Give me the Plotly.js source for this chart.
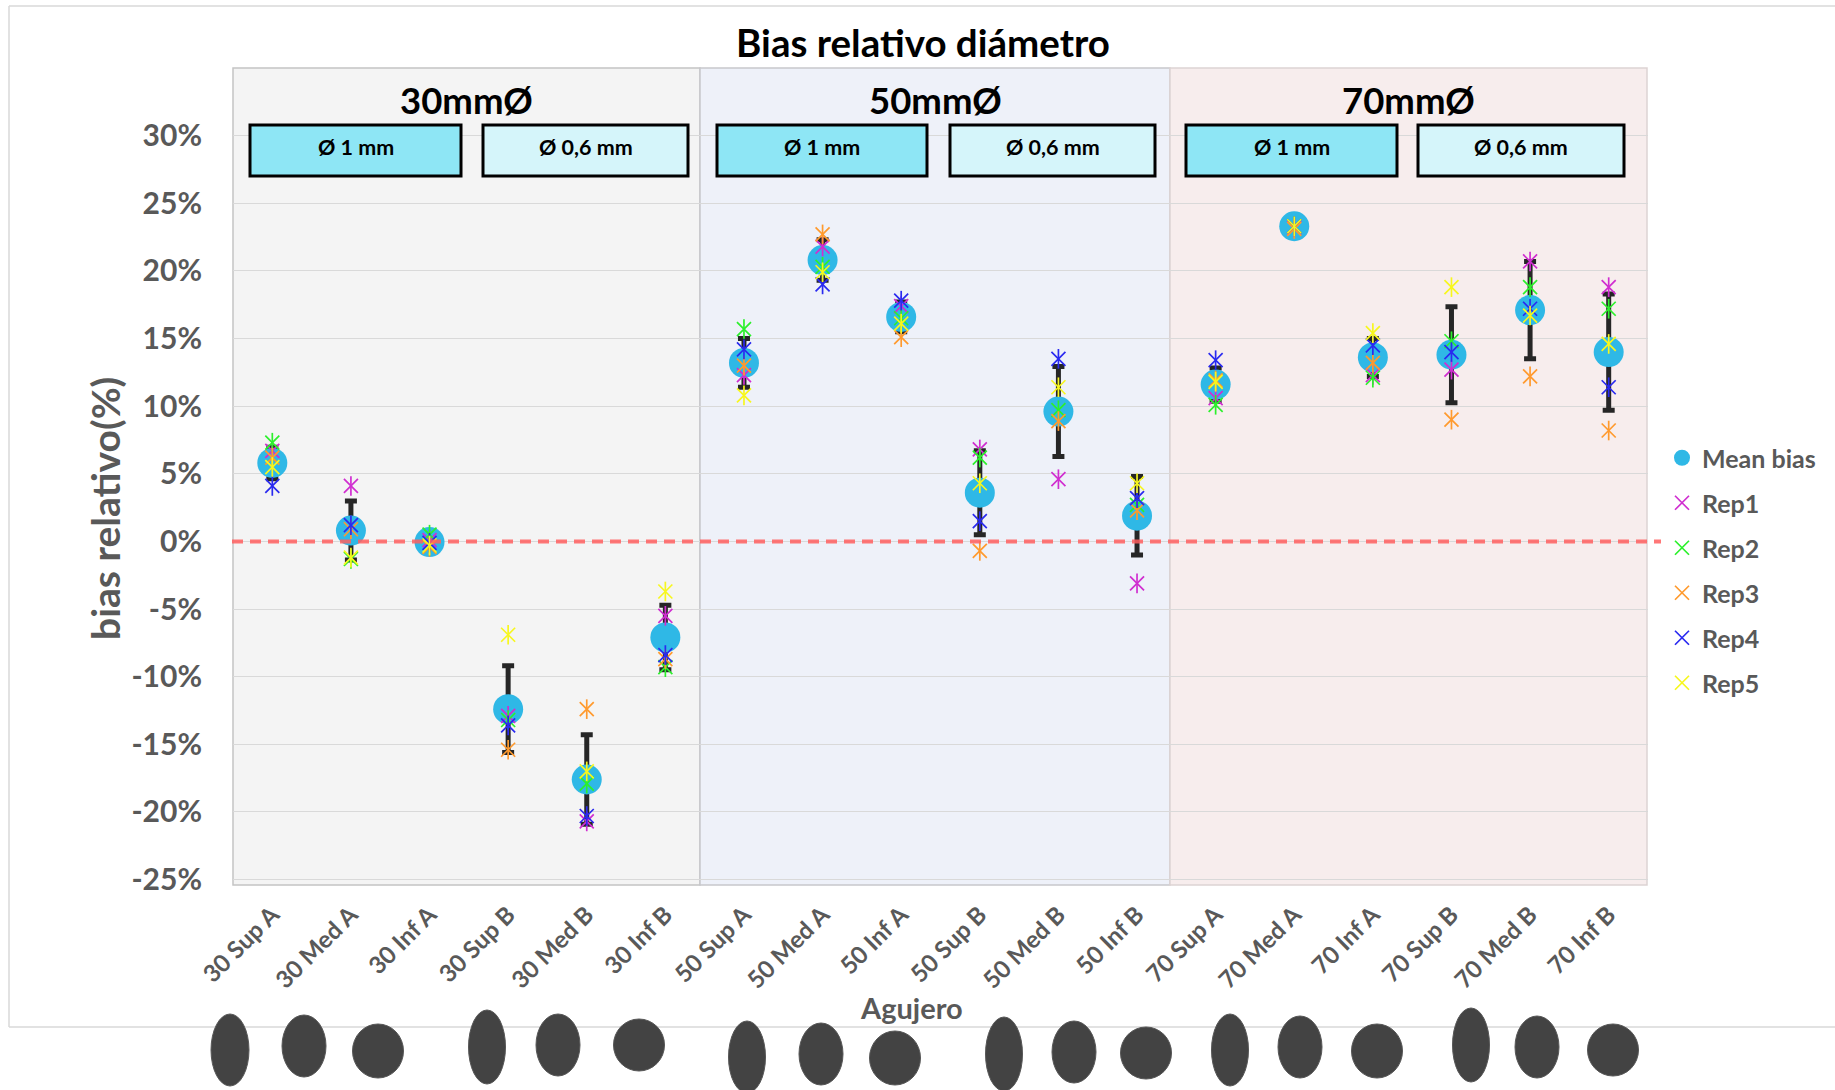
<!DOCTYPE html>
<html>
<head>
<meta charset="utf-8">
<script src="https://cdn.plot.ly/plotly-3.0.1.min.js"></script>
<style>
  html, body { margin: 0; padding: 0; background: #ffffff; }
  #chart { width: 1835px; height: 1090px; }
</style>
</head>
<body>
<div id="chart"></div>
<script>
// ---- data: relative diameter bias (%) per hole ----
const categories = [
  '30 Sup A', '30 Med A', '30 Inf A', '30 Sup B', '30 Med B', '30 Inf B',
  '50 Sup A', '50 Med A', '50 Inf A', '50 Sup B', '50 Med B', '50 Inf B',
  '70 Sup A', '70 Med A', '70 Inf A', '70 Sup B', '70 Med B', '70 Inf B'
];
const meanBias = [5.8, 0.8, -0.05, -12.4, -17.6, -7.1, 13.2, 20.8, 16.6, 3.6, 9.6, 1.9, 11.6, 23.3, 13.6, 13.8, 17.1, 14.0];
const biasSD   = [1.17, 2.18, 0.35, 3.2, 3.3, 2.38, 1.8, 1.5, 1.1, 3.1, 3.33, 2.9, 1.23, 0.1, 1.4, 3.55, 3.6, 4.3];
const rep1 = [6.7, 4.1, 0.1, -12.9, -20.7, -5.5, 12.3, 21.8, 17.4, 6.8, 4.6, -3.1, 10.6, 23.2, 12.3, 12.7, 20.7, 18.8];
const rep2 = [7.3, -1.3, 0.5, -13.2, -17.9, -9.3, 15.7, 20.3, 16.5, 6.2, 9.7, 2.7, 10.1, 23.3, 12.1, 14.8, 18.8, 17.2];
const rep3 = [6.2, 0.9, -0.4, -15.4, -12.4, -8.7, 13.0, 22.7, 15.1, -0.7, 8.9, 2.3, 11.9, 23.1, 13.2, 9.0, 12.2, 8.2];
const rep4 = [4.1, 1.2, -0.1, -13.6, -20.3, -8.4, 14.2, 19.0, 17.8, 1.5, 13.5, 3.2, 13.4, 23.3, 14.5, 14.0, 17.2, 11.4];
const rep5 = [5.5, -1.2, -0.3, -6.9, -17.0, -3.7, 10.8, 19.9, 16.1, 4.3, 11.4, 4.3, 11.8, 23.3, 15.4, 18.8, 16.7, 14.6];
const repNames = ['Rep1', 'Rep2', 'Rep3', 'Rep4', 'Rep5'];
const reference = 0;
const yTickValues = [-25, -20, -15, -10, -5, 0, 5, 10, 15, 20, 25, 30];
const yTickLabels = ['-25%', '-20%', '-15%', '-10%', '-5%', '0%', '5%', '10%', '15%', '20%', '25%', '30%'];
const groupLabels = ['30mmØ', '50mmØ', '70mmØ'];
const drillLabels = ['Ø 1 mm', 'Ø 0,6 mm'];

// ---- page geometry (pixels) ----
const W = 1835, H = 1090;
const PLOT = { left: 233, right: 1648, top: 68, bottom: 885 };
const Y_RANGE = [-25.4, 35];
const fx = px => (px - PLOT.left) / (PLOT.right - PLOT.left);
const fy = py => (PLOT.bottom - py) / (PLOT.bottom - PLOT.top);

const FONT = 'Lato, "Open Sans", "DejaVu Sans", sans-serif';
const GREY_TEXT = '#595959';
const repColors = ['#d02ed0', '#2cf02c', '#ff9a2e', '#2a2af0', '#f7f71e'];

// shaded panels, one per plate diameter
const panels = [
  { x0: 233, x1: 700, fill: '#f4f4f4', line: '#c4c4c4' },
  { x0: 700, x1: 1170, fill: '#eef1f9', line: '#c8c8cc' },
  { x0: 1170, x1: 1647, fill: '#f7eded', line: '#ddd3d3' }
];
// labelled boxes for the two drill diameters inside each panel
const boxSpans = [
  [[250, 461], [483, 688]],
  [[717, 927], [950, 1155]],
  [[1186, 1397], [1418, 1624]]
];
const boxFills = ['#8ee6f5', '#d5f5fa'];
const BOX_Y = [125, 176];

// hole outline icons under the axis
const holeIcons = [
  [230, 1050, 38, 72], [304, 1046, 44, 62], [378, 1051, 51, 54],
  [487, 1047, 37, 74], [558, 1045, 44, 62], [639, 1045, 51, 52],
  [747, 1057, 37, 72], [821, 1054, 44, 62], [895, 1058, 51, 54],
  [1004, 1054, 37, 74], [1074, 1052, 44, 62], [1146, 1053, 51, 52],
  [1230, 1050, 37, 72], [1300, 1047, 44, 62], [1377, 1051, 51, 54],
  [1471, 1045, 37, 74], [1537, 1047, 44, 62], [1613, 1050, 51, 52]
];

const shapes = [];
// chart frame
const frame = { type: 'line', xref: 'paper', yref: 'paper', layer: 'below', line: { color: '#d9d9d9', width: 1.5 } };
shapes.push(Object.assign({}, frame, { x0: fx(9), x1: fx(W + 5), y0: fy(6), y1: fy(6) }));
shapes.push(Object.assign({}, frame, { x0: fx(9), x1: fx(9), y0: fy(6), y1: fy(1027) }));
shapes.push(Object.assign({}, frame, { x0: fx(9), x1: fx(W + 5), y0: fy(1027), y1: fy(1027) }));

panels.forEach(p => {
  shapes.push({
    type: 'rect', xref: 'paper', yref: 'paper', layer: 'below',
    x0: fx(p.x0), x1: fx(p.x1), y0: 0, y1: 1,
    fillcolor: p.fill, line: { color: p.line, width: 1.5 }
  });
});

const annotations = [];
boxSpans.forEach((spans, g) => {
  spans.forEach((s, k) => {
    shapes.push({
      type: 'rect', xref: 'paper', yref: 'paper', layer: 'above',
      x0: fx(s[0]), x1: fx(s[1]), y0: fy(BOX_Y[1]), y1: fy(BOX_Y[0]),
      fillcolor: boxFills[k], line: { color: '#000000', width: 3 }
    });
    annotations.push({
      xref: 'paper', yref: 'paper', x: fx((s[0] + s[1]) / 2), y: fy((BOX_Y[0] + BOX_Y[1]) / 2 - 4),
      xanchor: 'center', yanchor: 'middle', showarrow: false, text: drillLabels[k],
      font: { family: FONT, size: 21.5, color: '#000000', weight: 'bold' }
    });
  });
  const p = panels[g];
  annotations.push({
    xref: 'paper', yref: 'paper', x: fx((p.x0 + p.x1) / 2), y: fy(100),
    xanchor: 'center', yanchor: 'middle', showarrow: false, text: groupLabels[g],
    font: { family: FONT, size: 36.5, color: '#000000', weight: 'bold' }
  });
});

// dashed zero-bias reference, running slightly past the plot edge
const yRef = (reference - Y_RANGE[0]) / (Y_RANGE[1] - Y_RANGE[0]);
shapes.push({
  type: 'line', xref: 'paper', yref: 'paper', layer: 'above',
  x0: fx(232), x1: fx(1661), y0: yRef, y1: yRef,
  line: { color: 'rgba(255,95,95,0.85)', width: 4, dash: '11px,7px' }
});

holeIcons.forEach(([cx, cy, w, h]) => {
  shapes.push({
    type: 'circle', xref: 'paper', yref: 'paper', layer: 'above',
    x0: fx(cx - w / 2), x1: fx(cx + w / 2), y0: fy(cy + h / 2), y1: fy(cy - h / 2),
    fillcolor: '#434343', line: { color: '#575757', width: 1 }
  });
});

// axis titles
annotations.push({
  xref: 'paper', yref: 'paper', x: fx(105), y: fy(509), textangle: -90,
  xanchor: 'center', yanchor: 'middle', showarrow: false, text: 'bias relativo(%)',
  font: { family: FONT, size: 39, color: GREY_TEXT, weight: 'bold' }
});
annotations.push({
  xref: 'paper', yref: 'paper', x: fx(911), y: fy(1007),
  xanchor: 'center', yanchor: 'middle', showarrow: false, text: 'Agujero',
  font: { family: FONT, size: 29, color: GREY_TEXT, weight: 'bold' }
});

// ---- traces ----
const traces = [{
  type: 'scatter', mode: 'markers', name: 'Mean bias', legendgroup: 'mean',
  x: categories, y: meanBias,
  marker: { symbol: 'circle', size: 30, color: '#2fb8e6' },
  error_y: { type: 'data', array: biasSD, visible: true, color: '#262626', thickness: 5, width: 6 },
  hoverinfo: 'x+y'
}];
[rep1, rep2, rep3, rep4, rep5].forEach((vals, i) => {
  const c = repColors[i];
  traces.push({
    type: 'scatter', mode: 'markers', name: repNames[i], legendgroup: repNames[i],
    x: categories, y: vals,
    marker: { symbol: 'x-thin-open', size: 14, color: c, line: { color: c, width: 1.7 } }
  });
  traces.push({
    type: 'scatter', mode: 'markers', name: repNames[i], legendgroup: repNames[i], showlegend: false,
    x: categories, y: vals,
    marker: { symbol: 'line-ns-open', size: 14, color: c, line: { color: c, width: 1.7 } },
    hoverinfo: 'skip'
  });
});

const layout = {
  width: W, height: H,
  margin: { l: PLOT.left, r: W - PLOT.right, t: PLOT.top, b: H - PLOT.bottom, pad: 0 },
  paper_bgcolor: '#ffffff',
  plot_bgcolor: 'rgba(0,0,0,0)',
  font: { family: FONT, color: GREY_TEXT },
  title: {
    text: 'Bias relativo diámetro',
    font: { family: FONT, size: 38.5, color: '#000000', weight: 'bold' },
    xref: 'container', yref: 'container', x: 923 / W, y: 1 - 44 / H,
    xanchor: 'center', yanchor: 'middle'
  },
  xaxis: {
    type: 'category', range: [-0.5, categories.length - 0.5],
    tickmode: 'array', tickvals: categories, ticktext: categories,
    tickangle: -45, ticks: '', ticklabelstandoff: 10,
    tickfont: { family: FONT, size: 24, color: GREY_TEXT, weight: 'bold' },
    showgrid: false, zeroline: false, showline: false, fixedrange: true
  },
  yaxis: {
    range: Y_RANGE, tickmode: 'array', tickvals: yTickValues, ticktext: yTickLabels,
    ticks: '', ticklabelstandoff: 30,
    tickfont: { family: FONT, size: 30, color: GREY_TEXT, weight: 'bold' },
    showgrid: true, gridcolor: '#d9d9d9', gridwidth: 1,
    zeroline: false, showline: false, fixedrange: true
  },
  legend: {
    x: fx(1662), xanchor: 'left', y: fy(435), yanchor: 'top',
    font: { family: FONT, size: 25, color: GREY_TEXT, weight: 'bold' },
    tracegroupgap: 9.5, bgcolor: 'rgba(0,0,0,0)', borderwidth: 0
  },
  showlegend: true,
  shapes: shapes,
  annotations: annotations
};

Plotly.newPlot('chart', traces, layout, { displayModeBar: false, responsive: false });
</script>
</body>
</html>
